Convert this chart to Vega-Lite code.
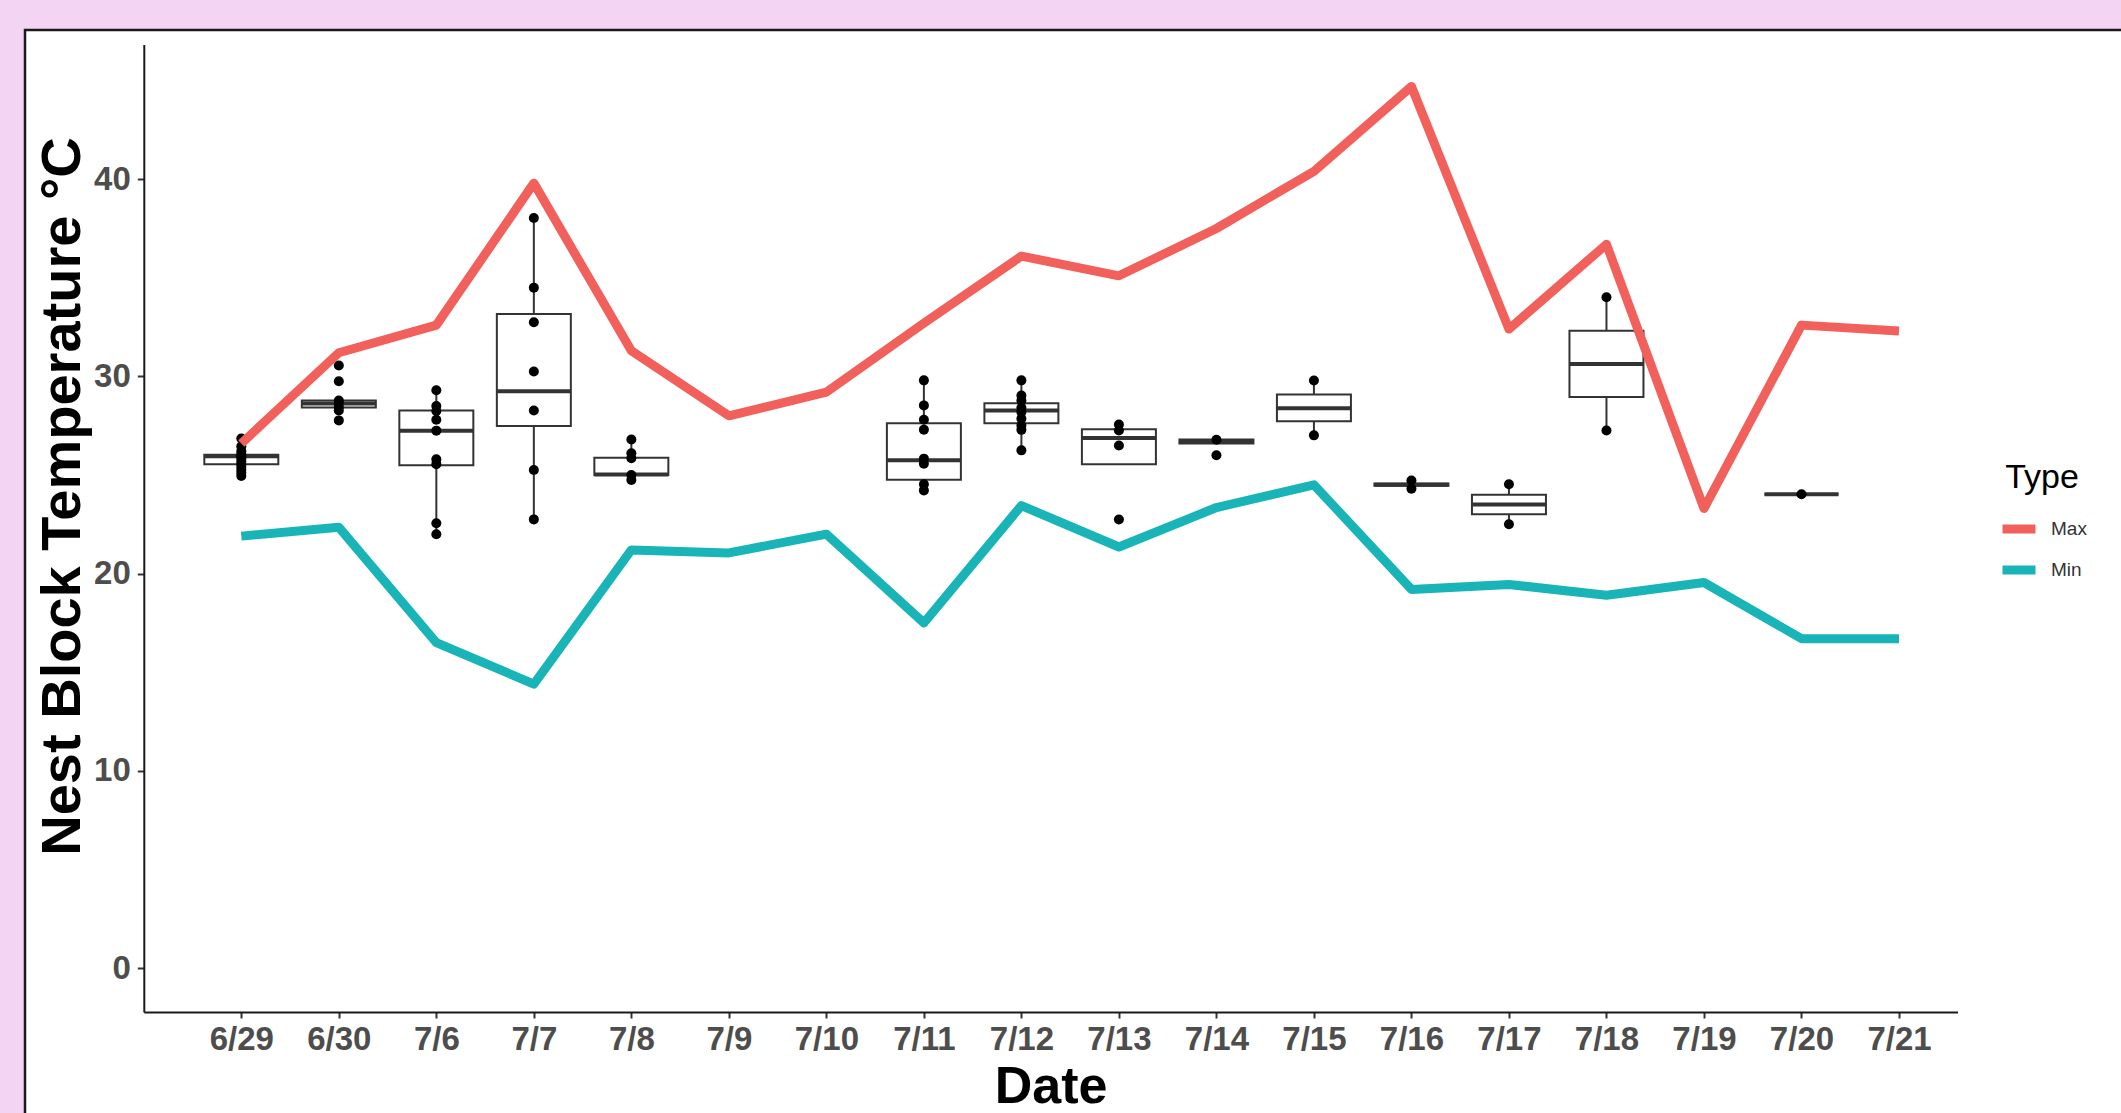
{
  "$schema": "https://vega.github.io/schema/vega-lite/v6.json",
  "width": 2100,
  "height": 1090,
  "autosize": {"type": "none"},
  "padding": {"left": 25, "top": 30, "right": -4, "bottom": -7},
  "background": "#F3D5F3",
  "config": {
    "font": "Liberation Sans",
    "view": {"fill": "white", "stroke": "#1a1a1a", "strokeWidth": 2.5}
  },
  "datasets": {
    "lines": [
      {"date": "6/29", "Type": "Max", "temp": 26.6},
      {"date": "6/30", "Type": "Max", "temp": 31.2},
      {"date": "7/6", "Type": "Max", "temp": 32.6},
      {"date": "7/7", "Type": "Max", "temp": 39.8},
      {"date": "7/8", "Type": "Max", "temp": 31.3},
      {"date": "7/9", "Type": "Max", "temp": 28.0},
      {"date": "7/10", "Type": "Max", "temp": 29.2},
      {"date": "7/11", "Type": "Max", "temp": 32.7},
      {"date": "7/12", "Type": "Max", "temp": 36.1},
      {"date": "7/13", "Type": "Max", "temp": 35.1},
      {"date": "7/14", "Type": "Max", "temp": 37.5},
      {"date": "7/15", "Type": "Max", "temp": 40.4},
      {"date": "7/16", "Type": "Max", "temp": 44.7},
      {"date": "7/17", "Type": "Max", "temp": 32.4},
      {"date": "7/18", "Type": "Max", "temp": 36.7},
      {"date": "7/19", "Type": "Max", "temp": 23.3},
      {"date": "7/20", "Type": "Max", "temp": 32.6},
      {"date": "7/21", "Type": "Max", "temp": 32.3},
      {"date": "6/29", "Type": "Min", "temp": 21.9},
      {"date": "6/30", "Type": "Min", "temp": 22.35},
      {"date": "7/6", "Type": "Min", "temp": 16.5},
      {"date": "7/7", "Type": "Min", "temp": 14.4},
      {"date": "7/8", "Type": "Min", "temp": 21.2},
      {"date": "7/9", "Type": "Min", "temp": 21.05},
      {"date": "7/10", "Type": "Min", "temp": 22.0},
      {"date": "7/11", "Type": "Min", "temp": 17.5},
      {"date": "7/12", "Type": "Min", "temp": 23.45},
      {"date": "7/13", "Type": "Min", "temp": 21.35},
      {"date": "7/14", "Type": "Min", "temp": 23.35},
      {"date": "7/15", "Type": "Min", "temp": 24.5},
      {"date": "7/16", "Type": "Min", "temp": 19.2},
      {"date": "7/17", "Type": "Min", "temp": 19.45},
      {"date": "7/18", "Type": "Min", "temp": 18.9},
      {"date": "7/19", "Type": "Min", "temp": 19.55},
      {"date": "7/20", "Type": "Min", "temp": 16.7},
      {"date": "7/21", "Type": "Min", "temp": 16.7}
    ],
    "boxes": [
      {"date": "6/29", "lower": 25.0, "q1": 25.55, "median": 25.95, "q3": 26.03, "upper": 26.6},
      {"date": "6/30", "lower": 28.27, "q1": 28.42, "median": 28.62, "q3": 28.78, "upper": 28.78},
      {"date": "7/6", "lower": 22.0, "q1": 25.5, "median": 27.25, "q3": 28.27, "upper": 29.3},
      {"date": "7/7", "lower": 22.75, "q1": 27.48, "median": 29.25, "q3": 33.17, "upper": 38.03},
      {"date": "7/8", "lower": 24.75, "q1": 25.0, "median": 25.02, "q3": 25.87, "upper": 26.8},
      {"date": "7/11", "lower": 24.22, "q1": 24.76, "median": 25.75, "q3": 27.63, "upper": 29.79},
      {"date": "7/12", "lower": 26.25, "q1": 27.63, "median": 28.27, "q3": 28.64, "upper": 29.79},
      {"date": "7/13", "lower": 25.55, "q1": 25.55, "median": 26.88, "q3": 27.32, "upper": 27.56},
      {"date": "7/14", "lower": 26.6, "q1": 26.6, "median": 26.72, "q3": 26.8, "upper": 26.8},
      {"date": "7/15", "lower": 27.01, "q1": 27.73, "median": 28.39, "q3": 29.08, "upper": 29.79},
      {"date": "7/16", "lower": 24.42, "q1": 24.45, "median": 24.5, "q3": 24.57, "upper": 24.6},
      {"date": "7/17", "lower": 22.5, "q1": 23.01, "median": 23.51, "q3": 24.0, "upper": 24.53},
      {"date": "7/18", "lower": 27.26, "q1": 28.95, "median": 30.63, "q3": 32.32, "upper": 34.01},
      {"date": "7/20", "lower": 24.02, "q1": 24.02, "median": 24.02, "q3": 24.02, "upper": 24.02}
    ],
    "points": [
      {"date": "6/29", "temp": 26.85}, {"date": "6/29", "temp": 26.45}, {"date": "6/29", "temp": 26.2},
      {"date": "6/29", "temp": 26.05}, {"date": "6/29", "temp": 25.95}, {"date": "6/29", "temp": 25.85},
      {"date": "6/29", "temp": 25.7}, {"date": "6/29", "temp": 25.55}, {"date": "6/29", "temp": 25.4},
      {"date": "6/29", "temp": 25.25}, {"date": "6/29", "temp": 25.1}, {"date": "6/29", "temp": 24.95},
      {"date": "6/30", "temp": 30.55}, {"date": "6/30", "temp": 29.75}, {"date": "6/30", "temp": 28.78},
      {"date": "6/30", "temp": 28.65}, {"date": "6/30", "temp": 28.45}, {"date": "6/30", "temp": 28.27},
      {"date": "6/30", "temp": 27.77},
      {"date": "7/6", "temp": 29.3}, {"date": "7/6", "temp": 28.5}, {"date": "7/6", "temp": 28.25},
      {"date": "7/6", "temp": 27.8}, {"date": "7/6", "temp": 27.25}, {"date": "7/6", "temp": 25.8},
      {"date": "7/6", "temp": 25.55}, {"date": "7/6", "temp": 22.55}, {"date": "7/6", "temp": 22.0},
      {"date": "7/7", "temp": 38.03}, {"date": "7/7", "temp": 34.5}, {"date": "7/7", "temp": 32.75},
      {"date": "7/7", "temp": 30.25}, {"date": "7/7", "temp": 28.27}, {"date": "7/7", "temp": 25.25},
      {"date": "7/7", "temp": 22.75},
      {"date": "7/8", "temp": 26.8}, {"date": "7/8", "temp": 26.1}, {"date": "7/8", "temp": 25.85},
      {"date": "7/8", "temp": 25.0}, {"date": "7/8", "temp": 24.75},
      {"date": "7/11", "temp": 29.8}, {"date": "7/11", "temp": 28.53}, {"date": "7/11", "temp": 27.8},
      {"date": "7/11", "temp": 27.3}, {"date": "7/11", "temp": 25.83}, {"date": "7/11", "temp": 25.57},
      {"date": "7/11", "temp": 24.53}, {"date": "7/11", "temp": 24.22},
      {"date": "7/12", "temp": 29.8}, {"date": "7/12", "temp": 29.03}, {"date": "7/12", "temp": 28.78},
      {"date": "7/12", "temp": 28.41}, {"date": "7/12", "temp": 28.19}, {"date": "7/12", "temp": 27.85},
      {"date": "7/12", "temp": 27.51}, {"date": "7/12", "temp": 27.29}, {"date": "7/12", "temp": 26.25},
      {"date": "7/13", "temp": 27.56}, {"date": "7/13", "temp": 27.26}, {"date": "7/13", "temp": 26.5},
      {"date": "7/13", "temp": 22.74},
      {"date": "7/14", "temp": 26.79}, {"date": "7/14", "temp": 26.0},
      {"date": "7/15", "temp": 29.79}, {"date": "7/15", "temp": 27.01},
      {"date": "7/16", "temp": 24.72}, {"date": "7/16", "temp": 24.3},
      {"date": "7/17", "temp": 24.53}, {"date": "7/17", "temp": 22.5},
      {"date": "7/18", "temp": 34.01}, {"date": "7/18", "temp": 27.26},
      {"date": "7/20", "temp": 24.02}
    ]
  },
  "encoding": {
    "x": {
      "field": "date",
      "type": "ordinal",
      "scale": {
        "type": "point",
        "domain": ["6/29", "6/30", "7/6", "7/7", "7/8", "7/9", "7/10", "7/11", "7/12", "7/13", "7/14", "7/15", "7/16", "7/17", "7/18", "7/19", "7/20", "7/21"],
        "range": [118.8, 1932.5],
        "padding": 0.8,
        "align": 0.625
      },
      "axis": {
        "title": "Date",
        "offset": -108,
        "grid": false,
        "labelAngle": 0,
        "labelOverlap": false,
        "labelFontSize": 33,
        "labelFontWeight": "bold",
        "labelColor": "#4D4D4D",
        "labelPadding": 5,
        "tickSize": 6,
        "tickWidth": 2,
        "tickColor": "#333333",
        "domainColor": "#1a1a1a",
        "domainWidth": 2,
        "titleFontSize": 52,
        "titleFontWeight": "bold",
        "titleColor": "black",
        "titleY": 90,
        "titleBaseline": "alphabetic"
      }
    }
  },
  "layer": [
    {
      "data": {"name": "boxes"},
      "mark": {"type": "rule", "color": "#333333", "strokeWidth": 2},
      "encoding": {
        "y": {
          "field": "lower",
          "type": "quantitative",
          "title": "Nest Block Temperature °C",
          "scale": {"domain": [-2.23, 46.83], "range": [982, 14.5], "nice": false, "zero": false},
          "axis": {
            "title": "Nest Block Temperature °C",
            "values": [0, 10, 20, 30, 40],
            "offset": -118.8,
            "grid": false,
            "labelFontSize": 33,
            "labelFontWeight": "bold",
            "labelColor": "#4D4D4D",
            "labelPadding": 7,
            "tickSize": 6.5,
            "tickWidth": 2,
            "tickColor": "#333333",
            "domainColor": "#1a1a1a",
            "domainWidth": 2,
            "titleFontSize": 56,
            "titleFontWeight": "bold",
            "titleColor": "black",
            "titleAngle": 270,
            "titleX": -64,
            "titleY": 466,
            "titleAlign": "center",
            "titleBaseline": "alphabetic"
          }
        },
        "y2": {"field": "upper"}
      }
    },
    {
      "data": {"name": "boxes"},
      "mark": {"type": "bar", "fill": "white", "stroke": "#333333", "strokeWidth": 2, "width": 74},
      "encoding": {
        "y": {"field": "q3", "type": "quantitative", "title": "Nest Block Temperature °C"},
        "y2": {"field": "q1"}
      }
    },
    {
      "data": {"name": "boxes"},
      "mark": {"type": "tick", "color": "#333333", "thickness": 4, "size": 74, "opacity": 1},
      "encoding": {
        "y": {"field": "median", "type": "quantitative", "title": "Nest Block Temperature °C"}
      }
    },
    {
      "data": {"name": "points"},
      "mark": {"type": "circle", "color": "black", "size": 100, "opacity": 1},
      "encoding": {
        "y": {"field": "temp", "type": "quantitative", "title": "Nest Block Temperature °C"}
      }
    },
    {
      "data": {"name": "lines"},
      "mark": {"type": "line", "strokeWidth": 9, "strokeJoin": "round", "strokeCap": "butt"},
      "encoding": {
        "y": {"field": "temp", "type": "quantitative", "title": "Nest Block Temperature °C"},
        "order": {"value": null},
        "color": {
          "field": "Type",
          "type": "nominal",
          "scale": {"domain": ["Max", "Min"], "range": ["#F2605C", "#19B4B7"]},
          "legend": {
            "orient": "none",
            "legendX": 1973,
            "legendY": 431,
            "title": "Type",
            "titleFontSize": 34,
            "titleFontWeight": "normal",
            "titleColor": "black",
            "titleAnchor": "middle",
            "titleAlign": "center",
            "titlePadding": 13,
            "labelFontSize": 19,
            "labelColor": "#333333",
            "symbolType": "stroke",
            "symbolSize": 1089,
            "symbolStrokeWidth": 9,
            "labelOffset": 11,
            "rowPadding": 2,
            "padding": 0
          }
        }
      }
    }
  ]
}
